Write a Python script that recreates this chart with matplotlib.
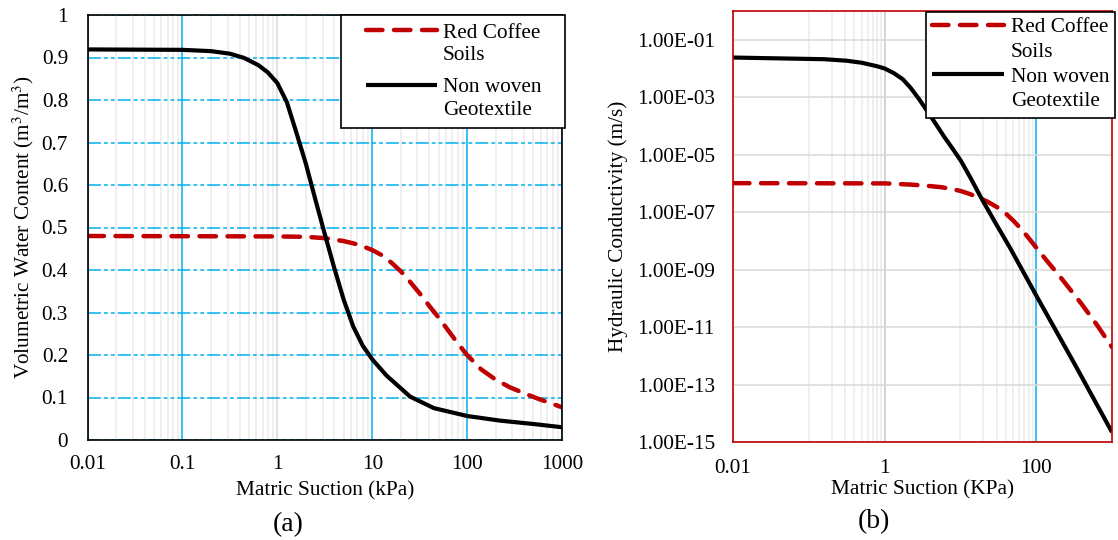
import numpy as np
import matplotlib
matplotlib.use("Agg")
import matplotlib.pyplot as plt
from matplotlib.legend_handler import HandlerLine2D
from matplotlib.ticker import FixedLocator, FuncFormatter, NullFormatter, NullLocator

plt.rcParams['font.family'] = ['Liberation Serif', 'DejaVu Serif']
plt.rcParams['mathtext.fontset'] = 'stix'

# (a) soil-water characteristic curves
suction_a_soil = [0.01, 1, 2.0, 3.16, 5.01, 7.08, 10, 12.6, 15.8, 20, 25.1, 31.6, 39.8, 50.1,
                  63.1, 79.4, 100, 141, 200, 282, 398, 562, 794, 1000]
theta_soil = [0.48, 0.479, 0.478, 0.475, 0.468, 0.46, 0.447, 0.435, 0.418, 0.397, 0.372, 0.345,
              0.316, 0.288, 0.258, 0.228, 0.20, 0.166, 0.142, 0.124, 0.11, 0.097, 0.085, 0.077]

suction_a_geo = [0.01, 0.1, 0.2, 0.316, 0.447, 0.631, 0.794, 1.0, 1.26, 1.58, 2.0, 2.51, 3.16,
                 3.98, 5.01, 6.31, 7.94, 10, 14.1, 25.1, 44.7, 100, 224, 501, 1000]
theta_geo = [0.919, 0.918, 0.915, 0.909, 0.899, 0.882, 0.865, 0.84, 0.795, 0.725, 0.65, 0.567,
             0.485, 0.405, 0.33, 0.267, 0.222, 0.19, 0.152, 0.102, 0.075, 0.0565, 0.0455,
             0.0376, 0.030]

# (b) hydraulic conductivity functions
suction_b_soil = [0.01, 1, 2.21, 3.55, 5.52, 7.94, 10.2, 13.2, 17.0, 22.9, 30.9, 39.8, 50.1,
                  63.1, 79.4, 105, 141, 200, 282, 398, 631, 1000]
k_soil = [1.02e-6, 1.0e-6, 9.1e-7, 8.3e-7, 7.4e-7, 6.3e-7, 5.4e-7, 4.3e-7, 3.3e-7, 2.3e-7,
          1.45e-7, 8.9e-8, 5.0e-8, 2.6e-8, 1.26e-8, 5.0e-9, 1.9e-9, 6.3e-10, 2.0e-10,
          6.3e-11, 1.2e-11, 2.0e-12]

suction_b_geo = [0.01, 0.16, 0.316, 0.5, 0.79, 1.0, 1.32, 1.74, 2.21, 2.82, 3.68, 4.79, 6.11,
                 7.94, 10.2, 13.8, 18.6, 28.2, 44.7, 105, 316, 1000]
k_geo = [2.4e-2, 2.1e-2, 1.86e-2, 1.58e-2, 1.2e-2, 1.0e-2, 6.9e-3, 4.2e-3, 2.1e-3, 8.9e-4,
         3.2e-4, 1.12e-4, 4.2e-5, 1.58e-5, 6.0e-6, 1.45e-6, 3.3e-7, 4.8e-8, 6.0e-9, 1.0e-10,
         5.6e-13, 2.2e-15]

labels = ["Red Coffee\nSoils", "Non woven\nGeotextile"]
x_ticks_a = [0.01, 0.1, 1, 10, 100, 1000]
y_ticks_a = [0, 0.1, 0.2, 0.3, 0.4, 0.5, 0.6, 0.7, 0.8, 0.9, 1]
x_ticks_b = [0.01, 1, 100]
x_minor_b = [0.1, 0.2, 0.3, 0.4, 0.5, 0.6, 0.7, 0.8, 0.9, 10, 20, 30, 40, 50, 60, 70, 80, 90]
y_ticks_b = [1e-1, 1e-3, 1e-5, 1e-7, 1e-9, 1e-11, 1e-13, 1e-15]

BLUE = '#00B0F0'
RED = '#C00000'
FS = 15.3


class FirstLineHandler(HandlerLine2D):
    # put the legend line next to the first line of a two-line label
    def __init__(self, lift, indent, **kw):
        super().__init__(**kw)
        self.lift = lift
        self.indent = indent

    def create_artists(self, legend, orig_handle, xdescent, ydescent, width, height, fontsize, trans):
        artists = super().create_artists(legend, orig_handle, xdescent, ydescent,
                                         width, height, fontsize, trans)
        for a in artists:
            xd = np.asarray(a.get_xdata(), float).copy()
            yd = np.asarray(a.get_ydata(), float)
            xd[0] = xd[0] + self.indent * fontsize
            a.set_data(xd, yd + self.lift * fontsize)
        return artists


def make_legend(ax, handles, box, lift, indent, linespacing, labelspacing, handlelength, borderpad):
    W, H = 1118, 540
    x0, y0, x1, y1 = box
    hmap = {h: FirstLineHandler(lift, indent) for h in handles}
    leg = ax.legend(handles, labels, loc='upper left',
                    bbox_to_anchor=(x0 / W, 1 - y1 / H, (x1 - x0) / W, (y1 - y0) / H),
                    bbox_transform=ax.figure.transFigure, mode='expand',
                    borderaxespad=0, borderpad=borderpad, handlelength=handlelength,
                    handletextpad=0.3, labelspacing=labelspacing, fontsize=FS,
                    fancybox=False, framealpha=1, edgecolor='black', handler_map=hmap)
    leg.get_frame().set_linewidth(1.2)
    for t in leg.get_texts():
        t.set_linespacing(linespacing)
    return leg


fig = plt.figure(figsize=(11.18, 5.4), dpi=100)
ax1 = fig.add_axes([87.5 / 1118, 1 - 440 / 540, 474.5 / 1118, 425 / 540])
ax2 = fig.add_axes([733 / 1118, 1 - 442 / 540, 379 / 1118, 431 / 540])

red_style = dict(color=RED, lw=3.2, linestyle=(0, (3.7, 2.6)), dash_capstyle='round')
black_style = dict(color='black', lw=3.0, solid_capstyle='butt', solid_joinstyle='round')

# ---- panel (a)
l1, = ax1.plot(suction_a_soil, theta_soil, **red_style)
l2, = ax1.plot(suction_a_geo, theta_geo, **black_style)
ax1.set_xscale('log')
ax1.set_xlim(0.01, 1000)
ax1.set_ylim(0, 1)
ax1.set_xticks(x_ticks_a)
ax1.xaxis.set_major_formatter(FuncFormatter(lambda v, _: f"{v:g}"))
ax1.xaxis.set_minor_formatter(NullFormatter())
ax1.set_yticks(y_ticks_a)
ax1.yaxis.set_major_formatter(FuncFormatter(lambda v, _: f"{v:g}"))
ax1.grid(which='major', axis='x', color=BLUE, lw=1.1)
ax1.grid(which='minor', axis='x', color='#EBEBEB', lw=1.1)
ax1.grid(which='major', axis='y', color=BLUE, lw=1.1, linestyle=(0, (8.5, 2, 2.5, 2, 2.5, 2)))
ax1.xaxis.get_major_ticks()[2].gridline.set_color('#D9D9D9')
ax1.tick_params(axis='both', which='both', length=0, labelsize=FS)
ax1.tick_params(axis='x', pad=10.5)
ax1.tick_params(axis='y', pad=14)
for s in ax1.spines.values():
    s.set_color('black')
    s.set_linewidth(1.2)
ax1.set_xlabel('Matric Suction (kPa)', fontsize=FS)
ax1.set_ylabel('Volumetric Water Content (m$^3$/m$^3$)', fontsize=FS)
ax1.xaxis.set_label_coords(0.5, -0.097)
ax1.yaxis.set_label_coords(-0.108, 0.5)
make_legend(ax1, [l1, l2], (341, 15, 565, 125), lift=0.65, indent=0.77,
            linespacing=1.26, labelspacing=0.62, handlelength=4.1, borderpad=0.4)

# ---- panel (b)
m1, = ax2.plot(suction_b_soil, k_soil, **red_style)
m2, = ax2.plot(suction_b_geo, k_geo, **black_style)
ax2.set_xscale('log')
ax2.set_yscale('log')
ax2.set_xlim(0.01, 1000)
ax2.set_ylim(1e-15, 1)
ax2.set_xticks(x_ticks_b)
ax2.xaxis.set_major_formatter(FuncFormatter(lambda v, _: f"{v:g}"))
ax2.xaxis.set_minor_locator(FixedLocator(x_minor_b))
ax2.xaxis.set_minor_formatter(NullFormatter())
ax2.set_yticks(y_ticks_b)
ax2.yaxis.set_major_formatter(FuncFormatter(lambda v, _: f"{v:.2E}"))
ax2.yaxis.set_minor_locator(NullLocator())
ax2.grid(which='major', axis='y', color='#D9D9D9', lw=1.1)
ax2.grid(which='minor', axis='x', color='#EBEBEB', lw=1.1)
ax2.grid(which='major', axis='x', color='#C8C8C8', lw=1.1)
ax2.xaxis.get_major_ticks()[2].gridline.set_color(BLUE)
ax2.tick_params(axis='both', which='both', length=0, labelsize=FS)
ax2.tick_params(axis='x', pad=12)
ax2.tick_params(axis='y', pad=13)
for s in ax2.spines.values():
    s.set_color(RED)
    s.set_linewidth(1.2)
ax2.set_xlabel('Matric Suction (KPa)', fontsize=FS)
ax2.set_ylabel('Hydraulic Conductivity (m/s)', fontsize=FS)
ax2.xaxis.set_label_coords(0.5, -0.088)
ax2.yaxis.set_label_coords(-0.277, 0.5)
make_legend(ax2, [m1, m2], (925.7, 12, 1115, 111), lift=0.71, indent=0.0,
            linespacing=1.42, labelspacing=0.25, handlelength=3.4, borderpad=0.3)

fig.text(288 / 1118, 1 - 525 / 540, '(a)', ha='center', va='center', fontsize=20)
fig.text(874 / 1118, 1 - 522 / 540, '(b)', ha='center', va='center', fontsize=20)

fig.savefig('out.png', dpi=100)
